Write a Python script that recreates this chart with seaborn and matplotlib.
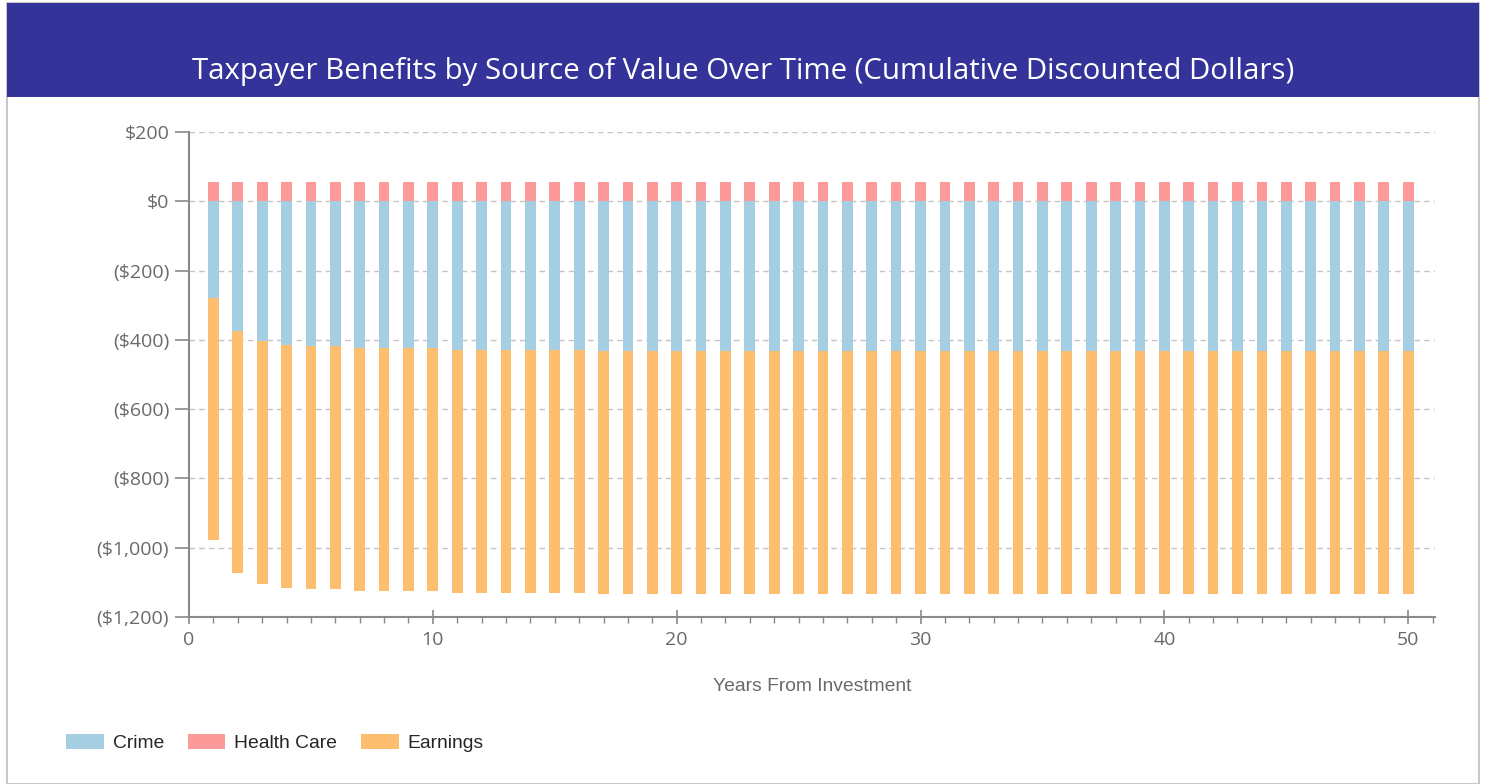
#!/usr/bin/env python3
"""
Taxpayer benefits by source of value over time - stacked bars.
"""

import matplotlib
matplotlib.use("Agg")
import matplotlib.pyplot as plt
from matplotlib.patches import Rectangle, Patch
from matplotlib.ticker import FuncFormatter, MultipleLocator
import seaborn as sns
import pandas as pd

years = list(range(1, 51))

# cumulative discounted dollars
health_care = [57] * 50
crime = [-278, -373, -404, -415, -419, -419, -424, -424, -424, -424,
         -428, -428, -429, -429, -430, -430, -431, -431, -432, -432,
         -432, -432, -433, -433, -433, -433, -433, -433, -433, -433,
         -433, -433, -433, -433, -433, -433, -433, -433, -433, -433,
         -433, -433, -433, -433, -433, -433, -433, -433, -433, -433]
earnings = [-701, -701, -701, -700, -701, -701, -701, -701, -701, -701,
            -702, -702, -701, -701, -702, -702, -703, -703, -703, -703,
            -703, -703, -702, -702, -702, -702, -702, -702, -702, -702,
            -702, -702, -702, -702, -702, -702, -702, -702, -702, -702,
            -702, -702, -702, -702, -702, -702, -702, -702, -702, -702]

series_labels = ["Crime", "Health Care", "Earnings"]

sns.set_theme(style="white")
plt.rcParams["font.family"] = ["Open Sans", "DejaVu Sans"]

pal = sns.color_palette("Paired")
colors = {"Crime": pal[0], "Health Care": pal[4], "Earnings": pal[6]}

df = pd.DataFrame({"year": years, "health": health_care,
                   "crime": crime, "earnings": earnings})
df["total_neg"] = df["crime"] + df["earnings"]

fig = plt.figure(figsize=(14.89, 7.84), dpi=100)
W, H = 1489, 784

# outer frame and title band (behind the axes)
fig.patches.append(Rectangle((7 / W, 0), 1472 / W, 1 - 3 / H,
                             transform=fig.transFigure, facecolor="white",
                             edgecolor="#c8c8c8", linewidth=1.5, zorder=-2))
fig.patches.append(Rectangle((7 / W, 1 - 97 / H), 1472 / W, 94 / H,
                             transform=fig.transFigure, facecolor="#343399",
                             edgecolor="none", zorder=-1))
fig.text(743 / W, 1 - 71 / H,
         "Taxpayer Benefits by Source of Value Over Time (Cumulative Discounted Dollars)",
         color="white", fontsize=21.2, ha="center", va="center")

ax = fig.add_axes([189 / W, 1 - 617 / H, (1435 - 189) / W, (617 - 132) / H])
ax.set_facecolor("none")

bar_kw = dict(native_scale=True, width=0.44, errorbar=None, saturation=1,
              linewidth=0, ax=ax)
# earnings stacked below crime: draw the combined extent first, crime over it
sns.barplot(data=df, x="year", y="total_neg", color=colors["Earnings"], **bar_kw)
sns.barplot(data=df, x="year", y="crime", color=colors["Crime"], **bar_kw)
sns.barplot(data=df, x="year", y="health", color=colors["Health Care"], **bar_kw)

ax.set_xlim(0, 51.1)
ax.set_ylim(-1200, 200)
ax.yaxis.set_major_locator(MultipleLocator(200))
ax.xaxis.set_major_locator(MultipleLocator(10))
ax.xaxis.set_minor_locator(MultipleLocator(1))


def money(v, pos):
    v = int(round(v))
    if v < 0:
        return f"(${-v:,})"
    return f"${v:,}"


ax.yaxis.set_major_formatter(FuncFormatter(money))
ax.grid(axis="y", color="#c4c4c4", linestyle=(0, (4, 3)), linewidth=1)
ax.set_axisbelow(True)

for side in ["top", "right"]:
    ax.spines[side].set_visible(False)
for side in ["left", "bottom"]:
    ax.spines[side].set_color("#8a8a8a")
    ax.spines[side].set_linewidth(1.5)

ax.tick_params(axis="y", which="major", direction="out", length=10, width=1.2,
               color="#8a8a8a", labelcolor="#6a6a6a", labelsize=14, pad=4.3,
               left=True)
ax.tick_params(axis="x", which="major", direction="inout", length=9.5, width=1.2,
               color="#8a8a8a", labelcolor="#6a6a6a", labelsize=14, pad=5,
               bottom=True)
ax.tick_params(axis="x", which="minor", direction="out", length=4, width=1,
               color="#8a8a8a", bottom=True)

ax.set_xlabel("Years From Investment", color="#6a6a6a", fontsize=13.9,
              family=["Liberation Sans", "DejaVu Sans"], labelpad=21)
ax.set_ylabel("")

handles = [Patch(facecolor=colors[s], edgecolor="none") for s in series_labels]
fig.legend(handles, series_labels, loc="center left",
           bbox_to_anchor=(49 / W, 1 - 743 / H), ncol=3, frameon=False,
           handlelength=1.93, handleheight=0.83, columnspacing=1.25,
           handletextpad=0.47,
           prop={"family": ["Liberation Sans", "DejaVu Sans"], "size": 13.9})

fig.savefig("out.png", dpi=100)
plt.close(fig)
